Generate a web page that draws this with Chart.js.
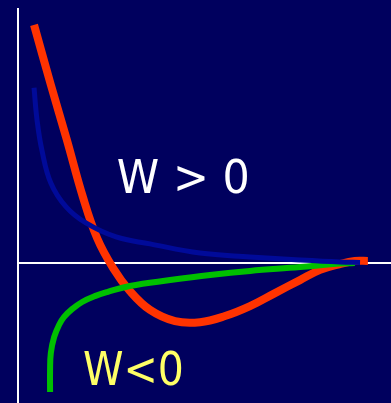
<!DOCTYPE html>
<html>
<head>
<meta charset="utf-8">
<script src="https://cdn.jsdelivr.net/npm/chart.js@4/dist/chart.umd.min.js"></script>
<style>
  html, body { margin: 0; padding: 0; background: #00005e; overflow: hidden; }
  canvas { display: block; }
</style>
</head>
<body>
<canvas id="myChart" width="391" height="403"></canvas>
<script>
// curves (x, y in plot units, axes cross at 0,0)
const redX   = [0.43, 0.88, 1.31, 1.74, 2.12, 2.55, 3.00, 3.54, 4.21, 4.88, 5.55, 6.22, 6.89, 7.56, 8.10, 8.63, 9.03, 9.38];
const redY   = [9.34, 6.99, 4.83, 2.59, 0.98, -0.20, -1.10, -1.84, -2.28, -2.32, -2.08, -1.69, -1.18, -0.67, -0.27, -0.04, 0.08, 0.08];
const blueX  = [0.43, 0.51, 0.64, 0.88, 1.29, 1.82, 2.63, 3.54, 4.88, 6.22, 7.56, 8.63, 9.17];
const blueY  = [6.87, 5.61, 4.43, 3.14, 2.20, 1.57, 1.02, 0.75, 0.39, 0.24, 0.12, 0.04, 0.02];
const greenX = [0.86, 0.86, 0.88, 0.97, 1.10, 1.23, 1.45, 1.72, 2.06, 2.39, 3.00, 4.08, 5.15, 6.22, 7.56, 8.45, 9.03];
const greenY = [-5.06, -4.20, -3.53, -2.90, -2.43, -2.12, -1.81, -1.53, -1.30, -1.14, -0.90, -0.67, -0.47, -0.31, -0.16, -0.04, 0.00];

const labels = [
    { text: 'W > 0', x: 2.65, y: 2.75, color: '#ffffff', width: 133 },
    { text: 'W<0',   x: 1.74, y: -4.79, color: '#ffff66', width: 101 }
];

const toPoints = (xs, ys) => xs.map((x, i) => ({ x: x, y: ys[i] }));

// background, the two axes through zero, and the text labels
const decor = {
    id: 'decor',
    beforeDraw(chart) {
        const ctx = chart.ctx;
        ctx.save();
        ctx.fillStyle = '#00005e';
        ctx.fillRect(0, 0, chart.width, chart.height);
        const xs = chart.scales.x, ys = chart.scales.y;
        const x0 = xs.getPixelForValue(0), y0 = ys.getPixelForValue(0);
        ctx.strokeStyle = '#ffffff';
        ctx.lineWidth = 2;
        ctx.beginPath();
        ctx.moveTo(x0, chart.chartArea.top);
        ctx.lineTo(x0, chart.height);
        ctx.moveTo(x0, y0);
        ctx.lineTo(chart.width, y0);
        ctx.stroke();
        ctx.restore();
    },
    afterDraw(chart) {
        const ctx = chart.ctx;
        ctx.save();
        ctx.font = '46px "DejaVu Sans", Verdana, sans-serif';
        ctx.textAlign = 'left';
        ctx.textBaseline = 'alphabetic';
        labels.forEach(l => {
            ctx.fillStyle = l.color;
            ctx.fillText(l.text, chart.scales.x.getPixelForValue(l.x), chart.scales.y.getPixelForValue(l.y), l.width);
        });
        ctx.restore();
    }
};

new Chart(document.getElementById('myChart').getContext('2d'), {
    type: 'line',
    data: {
        datasets: [
            { data: toPoints(blueX, blueY), borderColor: '#000a99', borderWidth: 5 },
            { data: toPoints(greenX, greenY), borderColor: '#00c000', borderWidth: 6 },
            { data: toPoints(redX, redY), borderColor: '#ff3300', borderWidth: 8 }
        ]
    },
    options: {
        responsive: false,
        animation: false,
        parsing: false,
        layout: { padding: { left: 18, top: 8, right: 0, bottom: 0 } },
        elements: {
            point: { radius: 0 },
            line: { tension: 0.4, fill: false, capBezierPoints: false }
        },
        scales: {
            x: { type: 'linear', display: false, min: 0, max: 10 },
            y: { type: 'linear', display: false, min: -5.49, max: 10 }
        },
        plugins: {
            legend: { display: false },
            tooltip: { enabled: false }
        }
    },
    plugins: [decor]
});
</script>
</body>
</html>
